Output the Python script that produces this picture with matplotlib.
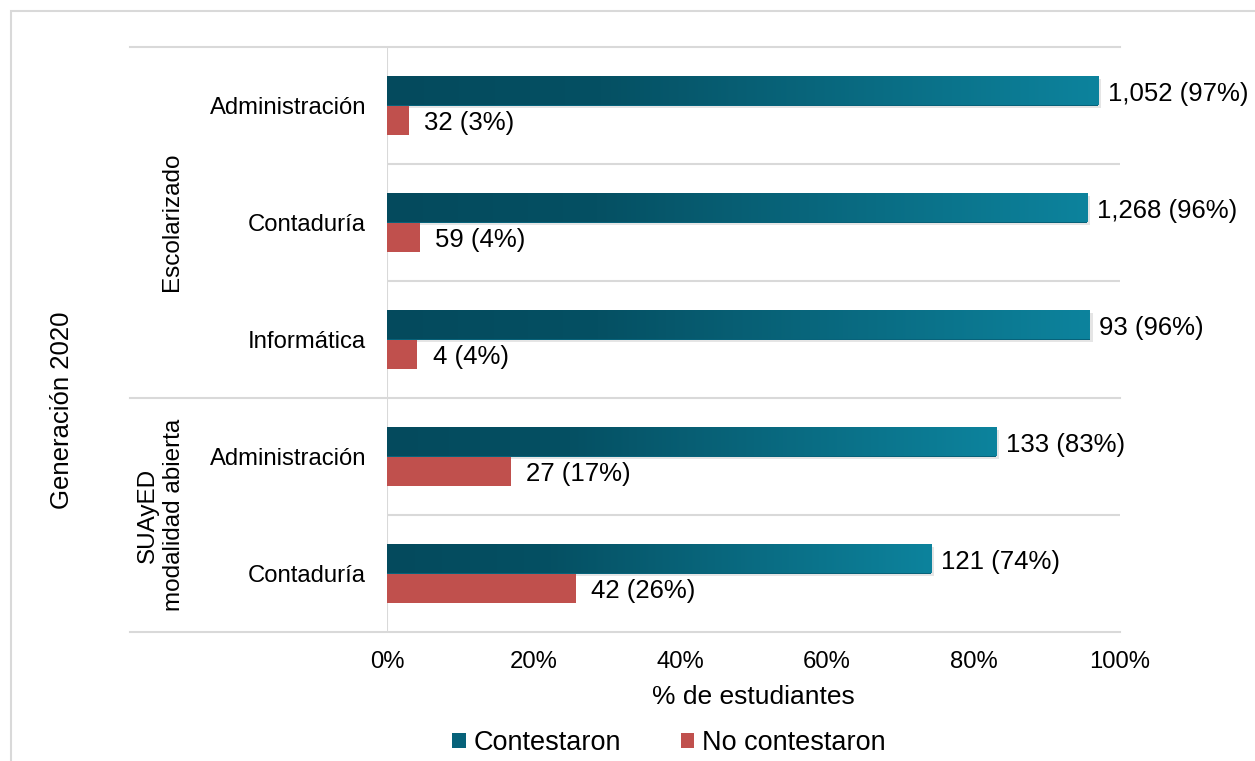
import matplotlib
matplotlib.use("Agg")
import matplotlib.pyplot as plt
import matplotlib.patheffects as pe
from matplotlib.colors import LinearSegmentedColormap
from matplotlib.patches import Patch, Rectangle
import numpy as np

plt.rcParams['font.family'] = ['Liberation Sans', 'DejaVu Sans']

# -- data --
carreras = ["Administración", "Contaduría", "Informática", "Administración", "Contaduría"]
grupos = ["Escolarizado", "SUAyED\nmodalidad abierta"]
contestaron = [1052, 1268, 93, 133, 121]
no_contestaron = [32, 59, 4, 27, 42]
x_ticks = [0, 20, 40, 60, 80, 100]

W, H = 1255, 761
fig = plt.figure(figsize=(W / 100, H / 100), dpi=100)
ax = fig.add_axes([387 / W, 1 - 632 / H, (1120 - 387) / W, (632 - 47) / H])

grid_c = "#d9d9d9"
red = "#c0504d"
grad = LinearSegmentedColormap.from_list(
    "g", [(0, "#044a5d"), (0.3, "#055063"), (1, "#0d839d")])

tot = np.array(contestaron) + np.array(no_contestaron)
pct_si = np.array(contestaron) / tot * 100
pct_no = np.array(no_contestaron) / tot * 100
ypos = np.arange(len(carreras))
h = 0.25

blue_bars = ax.barh(ypos - h / 2, pct_si, height=h, color="#07627a", zorder=3)
for b in blue_bars:
    b.set_path_effects([pe.SimplePatchShadow(offset=(2, -2), shadow_rgbFace="#999999", alpha=0.25),
                        pe.Normal()])
    x0, y0 = b.get_x(), b.get_y()
    im = ax.imshow(np.linspace(0, 1, 256).reshape(1, -1), cmap=grad, aspect="auto",
                   extent=[x0, x0 + b.get_width(), y0 + b.get_height(), y0], zorder=4)
    im.set_clip_path(b)
ax.barh(ypos + h / 2, pct_no, height=h, color=red, zorder=3)

for i in range(len(carreras)):
    ax.annotate(f"{contestaron[i]:,} ({pct_si[i]:.0f}%)", (pct_si[i], i - h / 2),
                xytext=(7, -2), textcoords="offset points", va="center", fontsize=18.5)
    ax.annotate(f"{no_contestaron[i]:,} ({pct_no[i]:.0f}%)", (pct_no[i], i + h / 2),
                xytext=(11, -2), textcoords="offset points", va="center", fontsize=18.5)

ax.set_xlim(0, 100)
ax.set_ylim(len(carreras) - 0.5, -0.5)
ax.set_xticks(x_ticks)
ax.set_xticklabels([f"{t}%" for t in x_ticks])
ax.set_yticks(ypos)
ax.set_yticklabels(carreras)
ax.tick_params(length=0, labelsize=17.2)
ax.tick_params(axis="x", pad=14)
ax.tick_params(axis="y", pad=15)
ax.set_xlabel("% de estudiantes", fontsize=19, labelpad=8)
for s in ax.spines.values():
    s.set_visible(False)

# category and group separators
left_ext = (130 - 387) / (1120 - 387)
tr = ax.get_yaxis_transform()
for yb in [0.5, 1.5, 3.5]:
    ax.plot([0, 1], [yb, yb], color=grid_c, lw=1.5, transform=tr, zorder=1)
for yb in [-0.5, 2.5, 4.5]:
    ax.plot([left_ext, 1], [yb, yb], color=grid_c, lw=1.5, transform=tr, zorder=1, clip_on=False)
ax.axvline(0, color=grid_c, lw=1.5, zorder=2)

# group and generation labels
fig.text(172 / W, 1 - 222 / H, grupos[0], rotation=90, ha="center", va="center", fontsize=17.5)
fig.text(161 / W, 1 - 515 / H, grupos[1], rotation=90, ha="center", va="center",
         fontsize=17.5, multialignment="center", linespacing=1.2)
fig.text(62 / W, 1 - 410 / H, "Generación 2020", rotation=90, ha="center", va="center", fontsize=18.5)

# outer border
fig.patches.append(Rectangle((11 / W, -0.1), 1.2, 1 - 11 / H + 0.1, transform=fig.transFigure,
                             fill=False, edgecolor=grid_c, lw=1.5))

handles = [Patch(facecolor="#07627a"), Patch(facecolor=red)]
fig.legend(handles, ["Contestaron", "No contestaron"], loc="center",
           bbox_to_anchor=(669 / W, 1 - 743 / H), ncol=2, frameon=False, fontsize=19.5,
           handlelength=0.5, handleheight=0.5, handletextpad=0.3, columnspacing=2.2)

fig.savefig("out.png", dpi=100)
